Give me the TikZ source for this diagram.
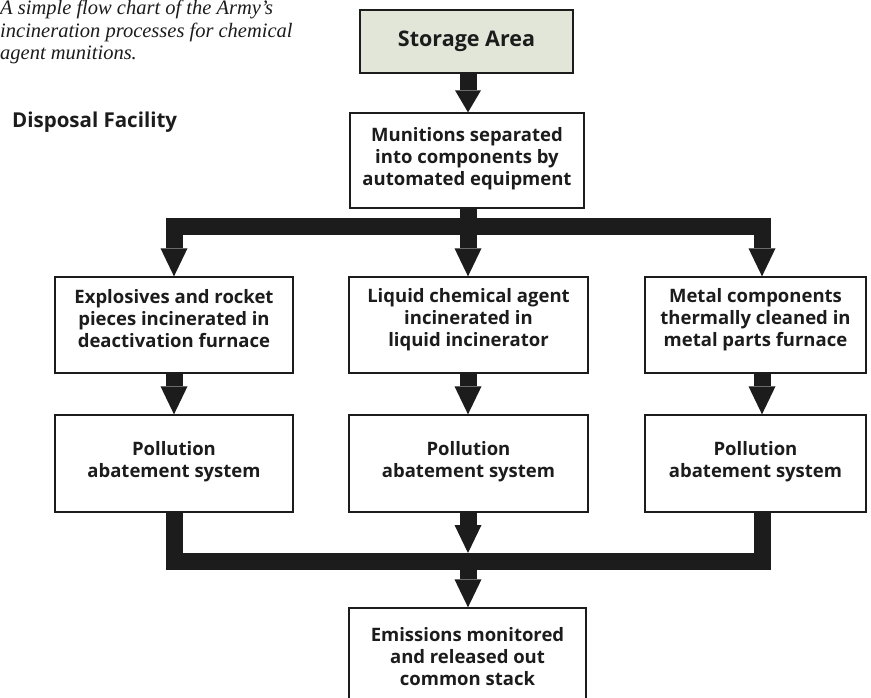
\documentclass[tikz,border=0pt]{standalone}
\usepackage{fontspec}
\setmainfont{Liberation Serif}
\newfontfamily\boxfont{Open Sans}
\usetikzlibrary{arrows.meta}
\definecolor{storefill}{RGB}{226,230,216}
\definecolor{ink}{RGB}{28,28,28}
\tikzset{
  x=1pt, y=-1pt,
  box/.style={draw=ink, line width=1.3pt, fill=white, minimum height=97pt,
    align=center, inner sep=0pt, font=\boxfont\bfseries\fontsize{18.5}{22}\selectfont, text=ink},
  boxtext/.style={align=center, inner sep=0pt, font=\boxfont\bfseries\fontsize{18.5}{22}\selectfont, text=ink},
  fat/.style={draw=ink, line width=17pt},
  tip/.style={-{Triangle[width=27pt,length=28pt,line width=0pt]}},
  smalltip/.style={-{Triangle[width=26pt,length=22pt,line width=0pt]}},
}
\begin{document}
\begin{tikzpicture}
\clip (0,0) rectangle (871,698);
\fill[white] (0,0) rectangle (871,698);

% caption
\node[anchor=north west, inner sep=0pt, align=left, font=\itshape\fontsize{20.5}{22.5}\selectfont, text=ink] (cap) at (0,0)
  {A simple flow chart of the Army's\\incineration processes for chemical\\agent munitions.};
\node[anchor=west, inner sep=0pt, font=\boxfont\bfseries\fontsize{20.5}{24}\selectfont, text=ink] (fac) at (12,122) {Disposal Facility};

% boxes
\node[box, fill=storefill, minimum width=213pt, minimum height=63pt, font=\boxfont\bfseries\fontsize{21.5}{24}\selectfont] (st) at (466.5,41.5) {Storage Area};
\node[box, minimum width=234pt, minimum height=95pt] (mun) at (467,160.5) {};
\node[boxtext] (munt) at ([yshift=2pt]mun.center) {Munitions separated\\into components by\\automated equipment};
\node[box, minimum width=238pt, minimum height=96pt] (lb) at (174,325) {};
\node[boxtext] (lbt) at ([yshift=6pt]lb.center) {Explosives and rocket\\pieces incinerated in\\deactivation furnace};
\node[box, minimum width=239pt, minimum height=96pt] (mb) at (468.5,325) {};
\node[boxtext] (mbt) at ([yshift=5pt]mb.center) {Liquid chemical agent\\incinerated in\\liquid incinerator};
\node[box, minimum width=221pt, minimum height=96pt] (rb) at (755.5,325) {};
\node[boxtext] (rbt) at ([yshift=5pt]rb.center) {Metal components\\thermally cleaned in\\metal parts furnace};
\node[box, minimum width=238pt] (lp) at (174,463.5) {};
\node[boxtext] (lpt) at ([yshift=2pt]lp.center) {Pollution\\abatement system};
\node[box, minimum width=239pt] (mp) at (468.5,463.5) {};
\node[boxtext] (mpt) at ([yshift=2pt]mp.center) {Pollution\\abatement system};
\node[box, minimum width=221pt] (rp) at (755.5,463.5) {};
\node[boxtext] (rpt) at ([yshift=2pt]rp.center) {Pollution\\abatement system};
\node[box, minimum width=237pt] (em) at (467.5,656.5) {Emissions monitored\\and released out\\common stack};

% helper coordinates
\coordinate (mx) at (468,0);
\coordinate (rx) at (762,0);
\coordinate (topbar) at (0,227);
\coordinate (botbar) at (0,561.5);
\coordinate (bbtop) at (0,553);
\coordinate (bbbot) at (0,570);

% connectors
\draw[fat, smalltip] (st.south -| mx) -- (mun.north -| mx);
\draw[fat, {Triangle[width=27pt,length=28pt,line width=0pt]}-{Triangle[width=27pt,length=28pt,line width=0pt]}]
  (lb.north) -- (lb.north |- topbar) -- (topbar -| rx) -- (rb.north -| rx);
\draw[fat, tip] (mun.south -| mx) -- (mb.north -| mx);
\draw[fat, tip] (lb.south) -- (lp.north);
\draw[fat, tip] (mb.south -| mx) -- (mp.north -| mx);
\draw[fat, tip] (rb.south -| rx) -- (rp.north -| rx);
\draw[fat] (lp.south) -- (lp.south |- botbar) -- (botbar -| rx) -- (rp.south -| rx);
\draw[fat, tip] (mp.south -| mx) -- (bbtop -| mx);
\draw[fat, tip] (bbbot -| mx) -- (em.north -| mx);
\end{tikzpicture}
\end{document}
